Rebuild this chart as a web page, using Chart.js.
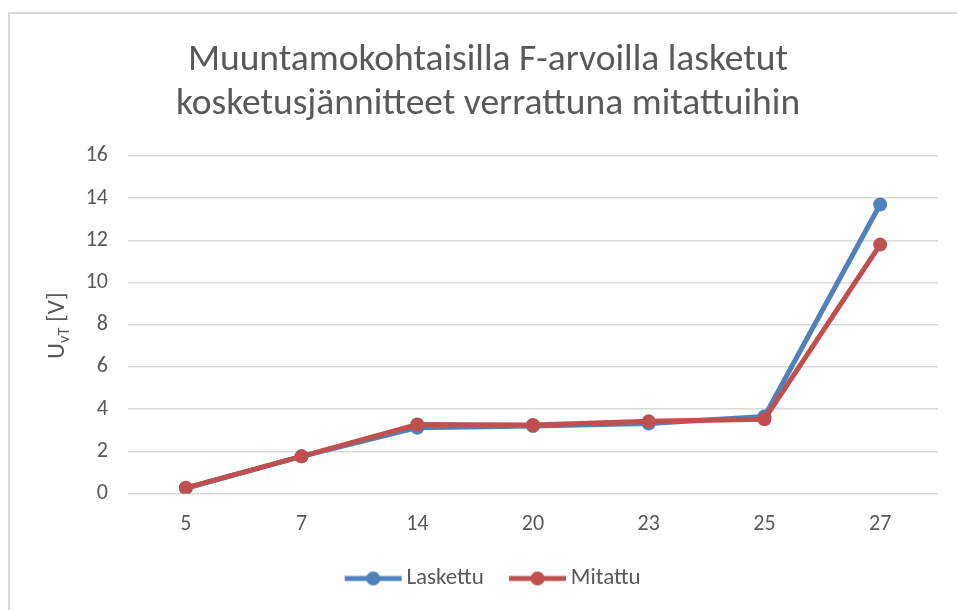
<!DOCTYPE html>
<html>
<head>
<meta charset="utf-8">
<script src="https://cdn.jsdelivr.net/npm/chart.js@4/dist/chart.umd.min.js"></script>
<style>
  html, body { margin: 0; padding: 0; background: #fff; }
  #wrap { position: relative; width: 957px; height: 610px; overflow: hidden; }
  #frame { position: absolute; left: 8px; top: 12px; width: 2000px; height: 2000px;
           border-left: 2px solid #d9d9d9; border-top: 2px solid #d9d9d9; pointer-events: none; }
  canvas { position: absolute; left: 0; top: 0; }
</style>
</head>
<body>
<div id="wrap">
  <canvas id="c" width="957" height="610"></canvas>
  <div id="frame"></div>
</div>
<script>
const categories = ['5', '7', '14', '20', '23', '25', '27'];
const laskettu = [0.25, 1.76, 3.12, 3.2, 3.32, 3.65, 13.7];
const mitattu = [0.27, 1.76, 3.27, 3.25, 3.42, 3.52, 11.8];
const seriesNames = ['Laskettu', 'Mitattu'];
const seriesColors = ['#4F81BD', '#C0504D'];
const titleLines = ['Muuntamokohtaisilla F-arvoilla lasketut', 'kosketusjännitteet verrattuna mitattuihin'];
const yTitleMain = 'U';
const yTitleSub = 'vT';
const yTitleRest = ' [V]';

const FONT = "Carlito, Lato, 'Open Sans', sans-serif";
const TXT = '#595959';

// legend icon: transparent space on the left, line + marker on the right
const ICON_W = 81, ICON_H = 16, LINE_LEN = 57;
function legendIcon(color) {
  const c = document.createElement('canvas');
  c.width = ICON_W; c.height = ICON_H;
  const g = c.getContext('2d');
  const x1 = ICON_W - 1 - LINE_LEN, x2 = ICON_W - 1;
  g.strokeStyle = color; g.lineWidth = 5;
  g.beginPath(); g.moveTo(x1, ICON_H / 2); g.lineTo(x2, ICON_H / 2); g.stroke();
  g.fillStyle = color;
  g.beginPath(); g.arc((x1 + x2) / 2, ICON_H / 2, 7, 0, Math.PI * 2); g.fill();
  return c;
}
const icons = seriesColors.map(legendIcon);

const yTitlePlugin = {
  id: 'yTitle',
  afterDraw(chart) {
    const ctx = chart.ctx;
    const area = chart.chartArea;
    const cy = (area.top + area.bottom) / 2 + 1;
    const cx = 58;
    ctx.save();
    ctx.translate(cx, cy);
    ctx.rotate(-Math.PI / 2);
    ctx.fillStyle = TXT;
    ctx.textBaseline = 'middle';
    const big = '25px ' + FONT, small = '16.5px ' + FONT;
    ctx.font = big; const w1 = ctx.measureText(yTitleMain).width;
    const w3 = ctx.measureText(yTitleRest).width;
    ctx.font = small; const w2 = ctx.measureText(yTitleSub).width;
    let x = -(w1 + w2 + w3) / 2;
    ctx.textAlign = 'left';
    ctx.font = big; ctx.fillText(yTitleMain, x, 0); x += w1;
    ctx.font = small; ctx.fillText(yTitleSub, x, 7); x += w2;
    ctx.font = big; ctx.fillText(yTitleRest, x, 0);
    ctx.restore();
  }
};

const shiftPlugin = {
  id: 'shiftBoxes',
  afterLayout(chart) {
    if (chart.titleBlock) { chart.titleBlock.left += 19; chart.titleBlock.right += 19; }
    if (chart.legend) { chart.legend.left += 16; chart.legend.right += 16; }
  }
};

new Chart(document.getElementById('c'), {
  type: 'line',
  data: {
    labels: categories,
    datasets: [
      { label: seriesNames[0], data: laskettu, borderColor: seriesColors[0], backgroundColor: seriesColors[0],
        borderWidth: 5, pointRadius: 7, pointHoverRadius: 7, pointBorderWidth: 0, tension: 0, order: 1 },
      { label: seriesNames[1], data: mitattu, borderColor: seriesColors[1], backgroundColor: seriesColors[1],
        borderWidth: 5, pointRadius: 7, pointHoverRadius: 7, pointBorderWidth: 0, tension: 0, order: 0 }
    ]
  },
  options: {
    responsive: false,
    animation: false,
    layout: { padding: { left: 0, right: 19, top: 0, bottom: 10 } },
    plugins: {
      title: {
        display: true, text: titleLines, color: TXT,
        font: { family: FONT, size: 37.5, weight: 'normal', lineHeight: 1.185 },
        padding: { top: 38, bottom: 29.1 }
      },
      legend: {
        position: 'bottom',
        labels: {
          usePointStyle: true, pointStyleWidth: 65.5, boxHeight: 16,
          color: TXT, font: { family: FONT, size: 23 }, padding: 10,
          generateLabels(chart) {
            return chart.data.datasets.map((ds, i) => ({
              text: ds.label, pointStyle: icons[i], fillStyle: ds.borderColor,
              strokeStyle: ds.borderColor, lineWidth: 0, hidden: false, datasetIndex: i, fontColor: TXT
            }));
          }
        }
      },
      tooltip: { enabled: false }
    },
    scales: {
      x: {
        offset: true,
        grid: { display: false, drawTicks: false, offset: true },
        border: { display: false },
        ticks: { color: TXT, font: { family: FONT, size: 22 }, padding: 18 },
        afterFit(scale) { scale.height = 63.5; }
      },
      y: {
        min: 0, max: 16,
        grid: { color: '#d9d9d9', lineWidth: 1.5, drawTicks: false },
        border: { display: false },
        ticks: { stepSize: 2, color: TXT, font: { family: FONT, size: 22 }, padding: 20 },
        afterFit(scale) { scale.width = 128; }
      }
    }
  },
  plugins: [yTitlePlugin, shiftPlugin]
});
</script>
</body>
</html>
